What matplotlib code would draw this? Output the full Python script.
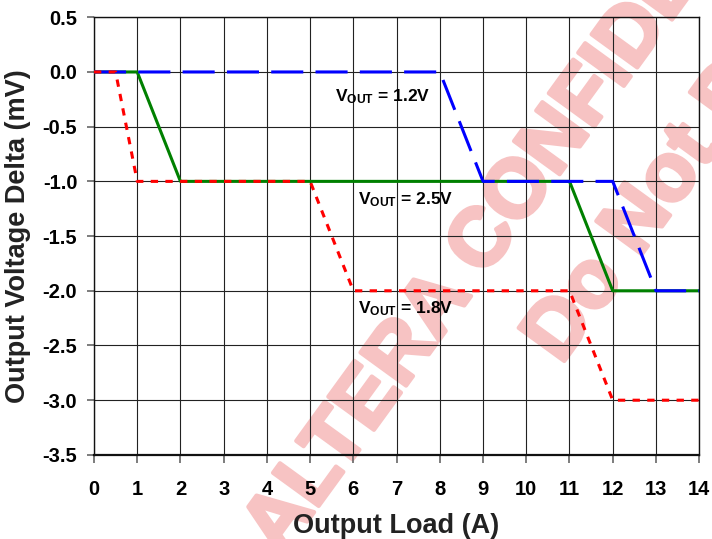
import matplotlib

matplotlib.use("Agg")
import matplotlib.pyplot as plt  # noqa: E402
import matplotlib.patheffects as pe  # noqa: E402

# load steps (A) and output delta (mV) for each rail
load_12 = [0, 8, 9, 12, 13, 14]
delta_12 = [0.0, 0.0, -1.0, -1.0, -2.0, -2.0]

load_25 = [0, 1, 2, 11, 12, 14]
delta_25 = [0.0, 0.0, -1.0, -1.0, -2.0, -2.0]

load_18 = [0, 0.5, 1, 5, 6, 11, 12, 14]
delta_18 = [0.0, 0.0, -1.0, -1.0, -2.0, -2.0, -3.0, -3.0]

x_ticks = list(range(0, 15))
y_ticks = [0.5, 0.0, -0.5, -1.0, -1.5, -2.0, -2.5, -3.0, -3.5]

plt.rcParams["font.family"] = ["Liberation Sans", "DejaVu Sans"]
plt.rcParams["font.weight"] = "bold"
plt.rcParams["mathtext.fontset"] = "custom"
plt.rcParams["mathtext.rm"] = "Liberation Sans:bold"
plt.rcParams["mathtext.it"] = "Liberation Sans:bold"
plt.rcParams["mathtext.bf"] = "Liberation Sans:bold"

fig = plt.figure(figsize=(7.12, 5.39), dpi=100)
ax = fig.add_axes([0.132, 0.156, 0.850, 0.812])
ax.patch.set_alpha(0)

# watermark behind the plot
pink = "#f7c3c3"
wm = dict(fontsize=59, fontweight="bold", color=pink, rotation=54,
          rotation_mode="anchor", va="baseline", zorder=-5,
          path_effects=[pe.withStroke(linewidth=3, foreground=pink)])
fig.text(0.680, 0.484, "ALTERA ", ha="right", **wm)
fig.text(0.680, 0.484, "CONFIDENTIAL", ha="left", **wm)
fig.text(0.788, 0.322, "Do Not Distribute", ha="left", **wm)

ax.plot(load_25, delta_25, color="#008000", lw=2.2, zorder=3)
ax.plot(load_12, delta_12, color="#0000ff", lw=2.2, dashes=(10.5, 4), zorder=4)
ax.plot(load_18, delta_18, color="#ff0000", lw=2.2, dashes=(2.4, 2.4), zorder=5)

lab_font = dict(fontsize=12.5, fontweight="bold", va="center", ha="left", zorder=6)
ax.text(5.58, -0.23, r"V$_{\mathrm{OUT}}$ = 1.2V", **lab_font)
ax.text(6.11, -1.17, r"V$_{\mathrm{OUT}}$ = 2.5V", **lab_font)
ax.text(6.11, -2.16, r"V$_{\mathrm{OUT}}$ = 1.8V", **lab_font)

ax.set_xlim(0, 14)
ax.set_ylim(-3.5, 0.5)
ax.set_xticks(x_ticks)
ax.set_yticks(y_ticks)
ax.set_yticklabels([f"{v:.1f}" for v in y_ticks])
ax.grid(True, color="#222222", lw=0.8)
ax.set_axisbelow(True)
for s in ax.spines.values():
    s.set_color("#111111")
    s.set_linewidth(1.0)
ax.spines["bottom"].set_linewidth(1.6)
ax.tick_params(axis="x", length=6, width=1.2, color="#666666", pad=12, labelsize=14.5)
ax.tick_params(axis="y", length=5, width=1.2, color="#666666", pad=7, labelsize=14.5)
for lbl in ax.get_xticklabels() + ax.get_yticklabels():
    lbl.set_fontweight("bold")

ax.set_xlabel("Output Load (A)", fontsize=19.5, fontweight="bold", color="#222222", labelpad=10.5)
ax.set_ylabel("Output Voltage Delta (mV)", fontsize=19.5, fontweight="bold", color="#222222", labelpad=8)

fig.savefig("out.png", dpi=100)
